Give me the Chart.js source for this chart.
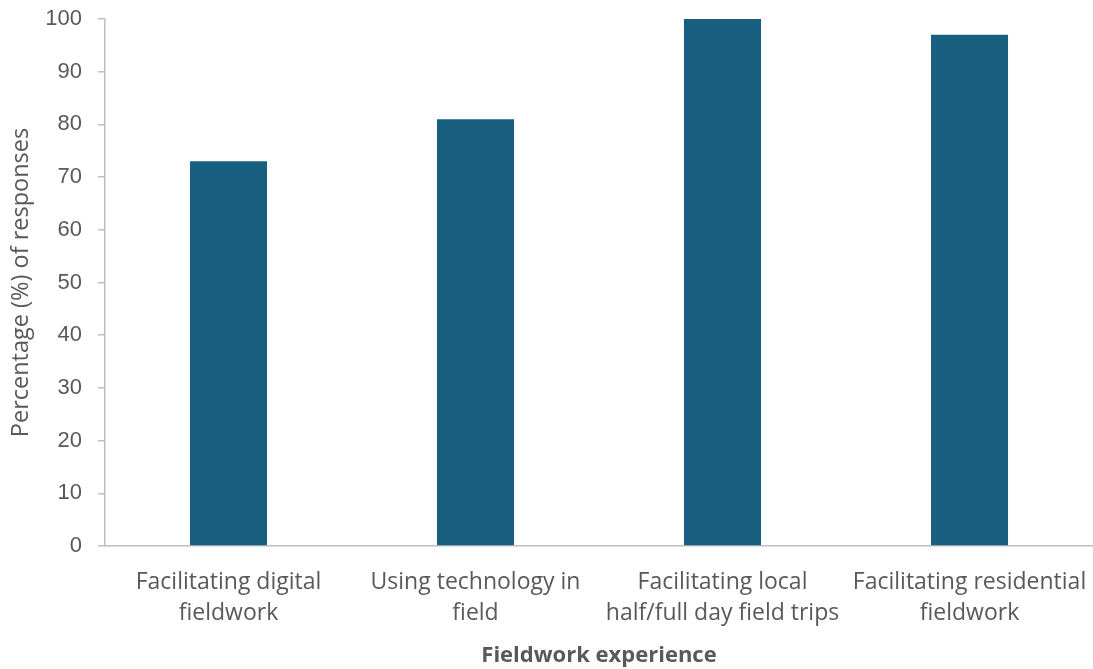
<!DOCTYPE html>
<html>
<head>
<meta charset="utf-8">
<script src="https://cdn.jsdelivr.net/npm/chart.js@4"></script>
<style>
  html, body { margin: 0; padding: 0; background: #ffffff; }
  #wrap { width: 1093px; height: 669px; }
</style>
</head>
<body>
<div id="wrap"><canvas id="chart"></canvas></div>
<script>
const categories = [
    ['Facilitating digital', 'fieldwork'],
    ['Using technology in', 'field'],
    ['Facilitating local', 'half/full day field trips'],
    ['Facilitating residential', 'fieldwork']
];
const responses = [73, 81, 100, 97];
const yTicks = [0, 10, 20, 30, 40, 50, 60, 70, 80, 90, 100];

const axisGrey = '#bfbfbf';
const textGrey = '#595959';

const ctx = document.getElementById('chart').getContext('2d');
new Chart(ctx, {
    type: 'bar',
    data: {
        labels: categories,
        datasets: [{
            data: responses,
            backgroundColor: '#185f80',
            borderWidth: 0,
            categoryPercentage: 1,
            barPercentage: 0.312
        }]
    },
    options: {
        responsive: true,
        maintainAspectRatio: false,
        animation: false,
        layout: { padding: { top: 19, right: 0, left: 0, bottom: 0 } },
        plugins: {
            legend: { display: false },
            tooltip: { enabled: false }
        },
        scales: {
            x: {
                grid: { display: false },
                border: { color: axisGrey, width: 1.5 },
                ticks: {
                    color: textGrey,
                    padding: 13,
                    maxRotation: 0,
                    autoSkip: false,
                    font: { family: 'Open Sans', size: 23, lineHeight: 1.35 }
                },
                title: {
                    display: true,
                    text: 'Fieldwork experience',
                    color: textGrey,
                    font: { family: 'Open Sans', size: 22, weight: 'bold' },
                    padding: { top: 4, bottom: 0 }
                },
                afterFit: (scale) => {
                    scale.height = 123;
                    scale.paddingLeft = 0;
                    scale.paddingRight = 0;
                }
            },
            y: {
                min: 0,
                max: 100,
                afterBuildTicks: (scale) => {
                    scale.ticks = yTicks.map(v => ({ value: v }));
                },
                grid: {
                    drawOnChartArea: false,
                    drawTicks: true,
                    tickLength: 7,
                    color: axisGrey,
                    lineWidth: 1.5
                },
                border: { color: axisGrey, width: 1.5 },
                ticks: {
                    color: textGrey,
                    padding: 16,
                    font: { family: 'Liberation Sans', size: 22 }
                },
                title: {
                    display: true,
                    text: 'Percentage (%) of responses',
                    color: textGrey,
                    font: { family: 'Open Sans', size: 23.5 },
                    padding: { top: 7, bottom: 0 }
                },
                afterFit: (scale) => {
                    scale.width = 105;
                    scale.paddingTop = 0;
                    scale.paddingBottom = 0;
                }
            }
        }
    }
});
</script>
</body>
</html>
